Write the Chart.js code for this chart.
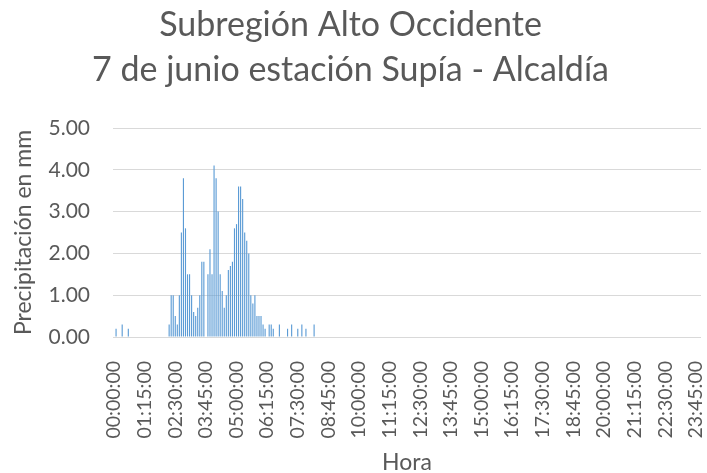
<!DOCTYPE html>
<html><head><meta charset="utf-8">
<script src="https://cdn.jsdelivr.net/npm/chart.js@4.4.1/dist/chart.umd.min.js"></script>
<style>html,body{margin:0;padding:0;background:#fff;}canvas{display:block;}</style>
</head><body>
<canvas id="c" width="707" height="473"></canvas>
<script>
const titleLines = ['Subregión Alto Occidente', '7 de junio estación Supía - Alcaldía'];
const yAxisTitle = 'Precipitación en mm';
const xAxisTitle = 'Hora';
const tickLabels = ['00:00:00','01:15:00','02:30:00','03:45:00','05:00:00','06:15:00','07:30:00',
  '08:45:00','10:00:00','11:15:00','12:30:00','13:45:00','15:00:00','16:15:00','17:30:00',
  '18:45:00','20:00:00','21:15:00','22:30:00','23:45:00'];
const yTicks = [0, 1, 2, 3, 4, 5];

// 5-minute categories, 00:00:00 .. 23:55:00
const categories = [];
for (let h = 0; h < 24; h++) {
  for (let m = 0; m < 60; m += 5) {
    categories.push(String(h).padStart(2,'0') + ':' + String(m).padStart(2,'0') + ':00');
  }
}

// precipitation (mm), one row per 2 hours (24 values each)
const precip = [
  0,0.2,0,0,0.3,0,0,0.2,0,0,0,0, 0,0,0,0,0,0,0,0,0,0,0,0,
  0,0,0,0.3,1.0,1.0,0.5,0.3,1.0,2.5,3.8,2.6, 1.5,1.5,1.0,0.6,0.5,0.7,1.0,1.8,1.8,0,1.5,2.1,
  1.5,4.1,3.8,3.0,1.5,1.1,0.7,1.0,1.6,1.7,1.8,2.6, 2.7,3.6,3.6,3.3,2.5,2.3,2.0,1.0,0.8,1.0,0.5,0.5,
  0.5,0.3,0.2,0,0.3,0.3,0.2,0,0,0.3,0,0, 0,0.2,0,0.3,0,0,0.2,0,0.3,0,0.2,0,
  0,0,0.3,0,0,0,0,0,0,0,0,0, 0,0,0,0,0,0,0,0,0,0,0,0,
  0,0,0,0,0,0,0,0,0,0,0,0, 0,0,0,0,0,0,0,0,0,0,0,0,
  0,0,0,0,0,0,0,0,0,0,0,0, 0,0,0,0,0,0,0,0,0,0,0,0,
  0,0,0,0,0,0,0,0,0,0,0,0, 0,0,0,0,0,0,0,0,0,0,0,0,
  0,0,0,0,0,0,0,0,0,0,0,0, 0,0,0,0,0,0,0,0,0,0,0,0,
  0,0,0,0,0,0,0,0,0,0,0,0, 0,0,0,0,0,0,0,0,0,0,0,0,
  0,0,0,0,0,0,0,0,0,0,0,0, 0,0,0,0,0,0,0,0,0,0,0,0,
  0,0,0,0,0,0,0,0,0,0,0,0, 0,0,0,0,0,0,0,0,0,0,0,0
];

const TXT = '#595959';
const FONT = 'Lato, "Open Sans", sans-serif';

new Chart(document.getElementById('c'), {
  type: 'bar',
  data: {
    labels: categories,
    datasets: [{
      data: precip,
      backgroundColor: '#5B9BD5',
      borderWidth: 0,
      categoryPercentage: 1.0,
      barPercentage: 0.55
    }]
  },
  options: {
    responsive: false,
    animation: false,
    events: [],
    layout: { padding: { left: 0, right: 6, top: 0, bottom: 0 } },
    plugins: {
      legend: { display: false },
      tooltip: { enabled: false },
      title: {
        display: true,
        text: titleLines,
        color: TXT,
        font: { family: FONT, size: 34, weight: 'normal', lineHeight: 45/34 },
        padding: { top: 2.5, bottom: 35.5 }
      }
    },
    scales: {
      x: {
        grid: { display: false },
        border: { display: false },
        ticks: {
          autoSkip: false,
          minRotation: 90,
          maxRotation: 90,
          padding: 16,
          color: TXT,
          font: { family: FONT, size: 19.5 },
          callback: function(val, idx) {
            const lab = categories[idx];
            return tickLabels.includes(lab) ? lab : '';
          }
        },
        title: {
          display: true,
          text: xAxisTitle,
          color: TXT,
          font: { family: FONT, size: 23, lineHeight: 0.8 },
          padding: { top: 0, bottom: 1 }
        },
        afterFit: function(s) { s.height = 136; s.paddingLeft = 0; s.paddingRight = 0; }
      },
      y: {
        min: 0,
        max: 5,
        afterBuildTicks: function(s) { s.ticks = yTicks.map(v => ({ value: v })); },
        grid: { color: '#D9D9D9', lineWidth: 1, drawTicks: false },
        border: { display: false },
        ticks: {
          padding: 23,
          color: TXT,
          font: { family: FONT, size: 21 },
          callback: v => Number(v).toFixed(2)
        },
        title: {
          display: true,
          text: yAxisTitle,
          color: TXT,
          font: { family: FONT, size: 23, lineHeight: 1.2 },
          padding: { top: 10.2, bottom: 0 }
        },
        afterFit: function(s) { s.width = 113; s.paddingTop = 0; s.paddingBottom = 0; }
      }
    }
  }
});
</script>
</body></html>
